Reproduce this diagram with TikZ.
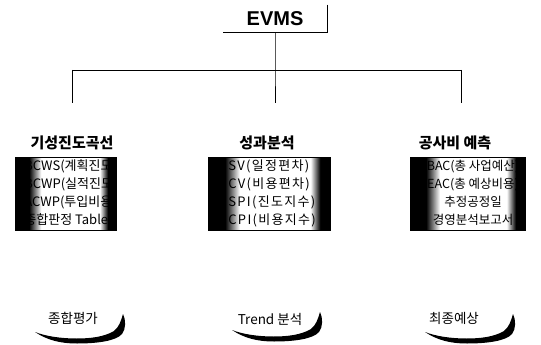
\documentclass[tikz,border=0pt]{standalone}
\usepackage{fontspec}
\setmainfont{Noto Sans CJK KR}
\newfontfamily\evmsfont{Liberation Sans}
\newfontfamily\widefont{Noto Sans CJK KR}[LetterSpace=10]
\pgfdeclarehorizontalshading{edgeshade}{100bp}{color(0bp)=(black); color(32bp)=(black); color(38bp)=(white); color(67bp)=(white); color(71bp)=(black); color(100bp)=(black)}
\tikzset{
	headline/.style={font=\fontsize{15}{17}\selectfont\bfseries, inner sep=0pt},
	listbox/.style={rectangle, draw=black, line width=0.6pt, shading=edgeshade, minimum height=73pt, inner sep=0pt},
	listtext/.style={font=\fontsize{13}{18}\selectfont, inner sep=0pt},
	endlabel/.style={font=\fontsize{13.5}{15}\selectfont, inner sep=0pt},
	swoosh/.pic={
		\fill[black] (0,0) .. controls (12,8) and (25,11.5) .. (42,11.5) .. controls (62,11.5) and (81,9) .. (87,2) .. controls (91,-3) and (91,-12) .. (88,-18)
			.. controls (86,-11) and (84,-5) .. (79,-1) .. controls (69,5) and (55,6.5) .. (42,6.5) .. controls (25,6.5) and (10,4) .. (0,0) -- cycle;
	}
}
\begin{document}
\begin{tikzpicture}[x=1pt, y=-1pt, line width=0.8pt]
		\useasboundingbox (0,0) rectangle (541,345);

		% top
		\node[font=\evmsfont\fontsize{20}{22}\selectfont\bfseries, minimum width=104pt, minimum height=27pt, inner sep=0pt](evms) at (275,18.5){EVMS};
		\draw (evms.north east) -- (evms.south east) -- (evms.south west);

		\coordinate (busM) at (275,70);
		\coordinate (busL) at (72,70);
		\coordinate (busR) at (461,70);
		\coordinate (dropL) at (72,103);
		\coordinate (dropM) at (275,103);
		\coordinate (dropR) at (461,103);
		\draw (evms.south) -- (busM) -- (dropM);
		\draw (busL) -- (busR);
		\draw (busL) -- (dropL);
		\draw (busR) -- (dropR);

		% headings
		\node[headline](progHead) at (72,143){기성진도곡선};
		\node[headline](perfHead) at (267,143){성과분석};
		\node[headline](costHead) at (455,143){공사비 예측};

		% boxes
		\node[listbox, minimum width=101pt](progBox) at (65.5,193.5){};
		\node[listbox, minimum width=122pt](perfBox) at (269,193.5){};
		\node[listbox, minimum width=115pt](costBox) at (467.5,193.5){};

		\begin{scope}
			\clip (progBox.south west) rectangle (progBox.north east);
			\node[listtext, align=left, anchor=west](progText) at (24,193){BCWS(계획진도)\\BCWP(실적진도)\\ACWP(투입비용)\\종합판정 Table};
		\end{scope}
		\begin{scope}
			\clip (perfBox.south west) rectangle (perfBox.north east);
			\node[listtext, font=\widefont\fontsize{13}{18}\selectfont, align=left, anchor=west](perfText) at (228,193){SV(일정편차)\\CV(비용편차)\\SPI(진도지수)\\CPI(비용지수)};
		\end{scope}
		\begin{scope}
			\clip (costBox.south west) rectangle (costBox.north east);
			\node[listtext, font=\fontsize{12.5}{18}\selectfont, align=center](costText) at (473,193){BAC(총 사업예산)\\EAC(총 예상비용)\\추정공정일\\경영분석보고서};
		\end{scope}

		% bottom
		\pic at (35,332) {swoosh};
		\pic at (232,330) {swoosh};
		\pic at (425,332) {swoosh};
		\node[endlabel](evalLabel) at (73,318){종합평가};
		\node[endlabel](trendLabel) at (270,319){Trend 분석};
		\node[endlabel](finalLabel) at (454,318){최종예상};
\end{tikzpicture}
\end{document}
